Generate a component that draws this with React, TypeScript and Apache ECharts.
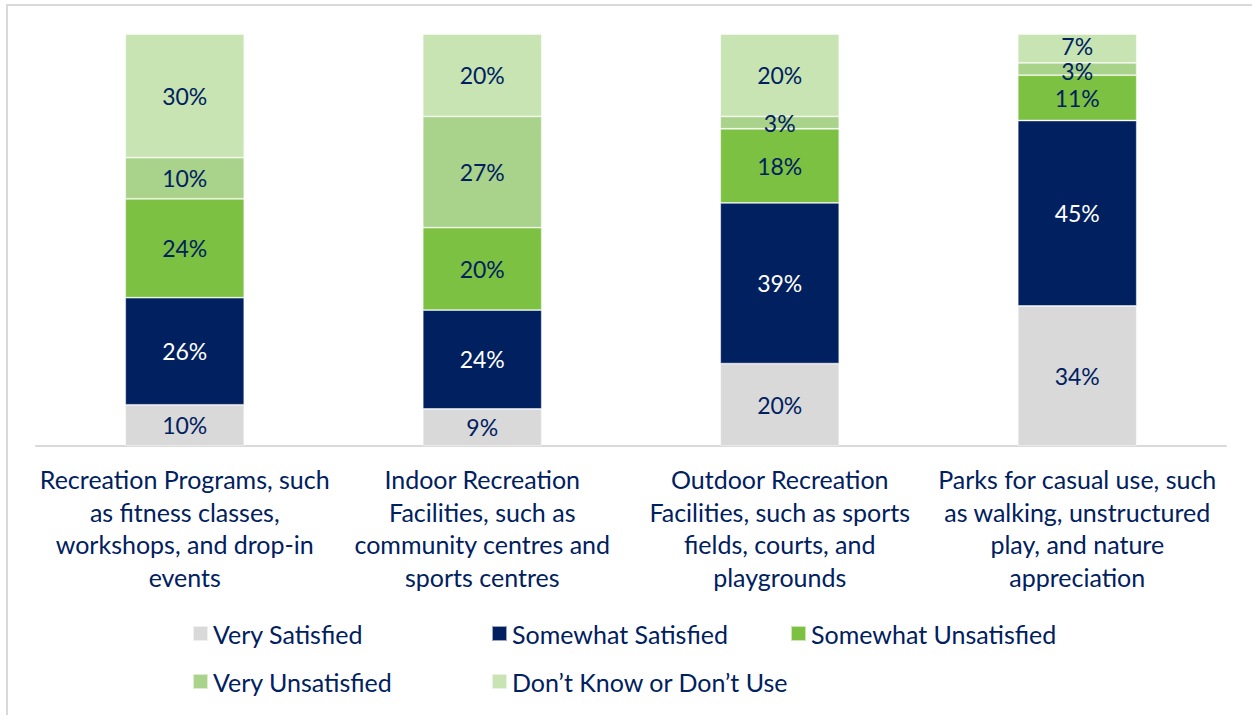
import React, { useEffect, useRef } from "react";
import * as echarts from "echarts";

const categories = [
  "Recreation Programs, such\nas fitness classes,\nworkshops, and drop-in\nevents",
  "Indoor Recreation\nFacilities, such as\ncommunity centres and\nsports centres",
  "Outdoor Recreation\nFacilities, such as sports\nfields, courts, and\nplaygrounds",
  "Parks for casual use, such\nas walking, unstructured\nplay, and nature\nappreciation",
];

const seriesNames = [
  "Very Satisfied",
  "Somewhat Satisfied",
  "Somewhat Unsatisfied",
  "Very Unsatisfied",
  "Don\u2019t Know or Don\u2019t Use",
];

const verySatisfied = [10, 9, 20, 34];
const somewhatSatisfied = [26, 24, 39, 45];
const somewhatUnsatisfied = [24, 20, 18, 11];
const veryUnsatisfied = [10, 27, 3, 3];
const dontKnow = [30, 20, 20, 7];

const seriesValues = [verySatisfied, somewhatSatisfied, somewhatUnsatisfied, veryUnsatisfied, dontKnow];
const colors = ["#D9D9D9", "#002060", "#7DC142", "#A9D38A", "#C7E4B2"];
const labelColors = ["#002060", "#FFFFFF", "#002060", "#002060", "#002060"];

const FONT = "Lato";
const NAVY = "#002060";

const legendPos = [
  { left: 192, top: 621 },
  { left: 491, top: 621 },
  { left: 790, top: 621 },
  { left: 192, top: 669 },
  { left: 491, top: 669 },
];

// small nudges for the crowded labels at the top of the last bar
const labelNudge: Record<string, number> = { "3-3": 1.5, "4-3": -2.5 };

export default function App() {
  const ref = useRef<HTMLDivElement>(null);
  useEffect(() => {
    if (!ref.current) return;
    const chart = echarts.init(ref.current, null, { renderer: "svg" });
    chart.setOption({
      animation: false,
      backgroundColor: "#FFFFFF",
      textStyle: { fontFamily: FONT },
      grid: { left: 36, width: 1190, top: 34, bottom: 269, containLabel: false },
      xAxis: {
        type: "category",
        data: categories,
        axisLine: { show: true, lineStyle: { color: "#D9D9D9", width: 2 } },
        axisTick: { show: false },
        axisLabel: {
          color: NAVY,
          fontFamily: FONT,
          fontSize: 25,
          lineHeight: 32.5,
          margin: 17,
          interval: 0,
        },
      },
      yAxis: { type: "value", min: 0, max: 100, show: false, splitLine: { show: false } },
      legend: seriesNames.map((n, i) => ({
        data: [n],
        left: legendPos[i].left,
        top: legendPos[i].top,
        padding: 0,
        icon: "rect",
        itemWidth: 15,
        itemHeight: 15,
        itemGap: 6,
        textStyle: { color: NAVY, fontFamily: FONT, fontSize: 25 },
        selectedMode: false,
      })),
      graphic: [
        { type: "line", shape: { x1: 6, y1: 5, x2: 1252, y2: 5 }, style: { stroke: "#D9D9D9", lineWidth: 2 } },
        { type: "line", shape: { x1: 7, y1: 5, x2: 7, y2: 715 }, style: { stroke: "#D9D9D9", lineWidth: 2 } },
      ],
      series: seriesNames.map((n, i) => ({
        name: n,
        type: "bar",
        stack: "total",
        barWidth: 119,
        data: seriesValues[i].map((v, j) => {
          const nudge = labelNudge[`${i}-${j}`];
          return nudge !== undefined ? { value: v, label: { offset: [0, nudge] } } : v;
        }),
        itemStyle: { color: colors[i], borderColor: "rgba(255,255,255,0.6)", borderWidth: 0.8 },
        label: {
          show: true,
          position: "inside",
          formatter: "{c}%",
          color: labelColors[i],
          fontFamily: FONT,
          fontSize: 23,
          lineHeight: 19,
        },
      })),
    });
    return () => chart.dispose();
  }, []);
  return (
    <div
      ref={ref}
      style={{ position: "fixed", left: 0, top: 0, width: 1252, height: 715, background: "#fff" }}
    />
  );
}
